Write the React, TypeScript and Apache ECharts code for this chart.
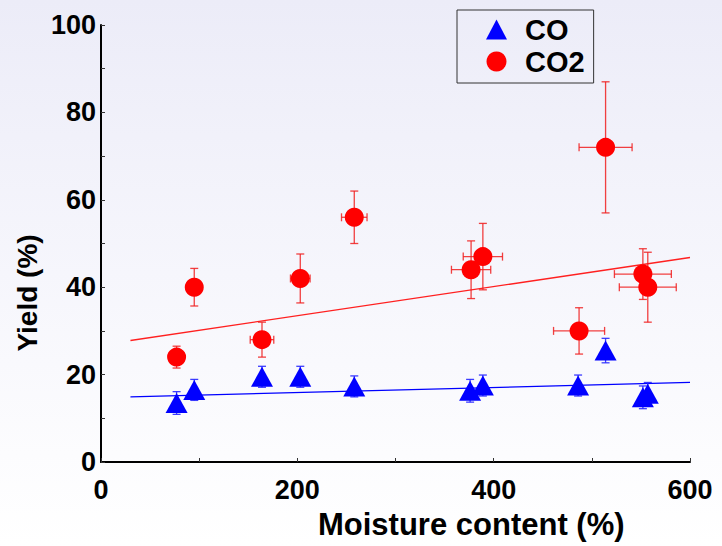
import React, { useEffect, useRef } from "react";
import * as echarts from "echarts";

// CO2 data (red circles)
const co2X = [77, 95, 164, 203, 258, 377, 389, 514, 487, 552, 557];
const co2Y = [24, 40, 28, 42, 56, 44, 47, 72, 30, 43, 40];
const co2XErr = [0, 0, 12, 10, 13, 20, 20, 27, 26, 29, 29];
const co2YErr = [2.5, 4.3, 4, 5.6, 6, 6.6, 7.6, 15, 5.3, 5.8, 8];

// CO data (blue triangles)
const coX = [77, 95, 164, 203, 258, 376, 389, 486, 514, 552, 557];
const coY = [13.5, 16.5, 19.5, 19.5, 17.3, 16.3, 17.5, 17.5, 25.5, 14.8, 15.6];
const coXErr = [0, 0, 0, 0, 0, 0, 0, 0, 0, 0, 0];
const coYErr = [2.6, 2.4, 2.4, 2.4, 2.4, 2.6, 2.4, 2.4, 2.8, 2.6, 2.6];

// Linear trend lines (endpoints)
const co2Trend = [
  [30, 27.8],
  [600, 46.8],
];
const coTrend = [
  [30, 14.9],
  [600, 18.2],
];

const xTicks = { min: 0, max: 600, interval: 200 };
const yTicks = { min: 0, max: 100, interval: 20 };

const FONT = "'Liberation Sans', Arial, Helvetica, sans-serif";

function errRender(color: string) {
  return (params: any, api: any) => {
    const x = api.value(0);
    const y = api.value(1);
    const xe = api.value(2);
    const ye = api.value(3);
    const cap = 4;
    const style = { stroke: color, lineWidth: 1.3 };
    const children: any[] = [];
    if (ye > 0) {
      const t = api.coord([x, y + ye]);
      const b = api.coord([x, y - ye]);
      children.push({ type: "line", shape: { x1: t[0], y1: t[1], x2: b[0], y2: b[1] }, style });
      children.push({ type: "line", shape: { x1: t[0] - cap, y1: t[1], x2: t[0] + cap, y2: t[1] }, style });
      children.push({ type: "line", shape: { x1: b[0] - cap, y1: b[1], x2: b[0] + cap, y2: b[1] }, style });
    }
    if (xe > 0) {
      const l = api.coord([x - xe, y]);
      const r = api.coord([x + xe, y]);
      children.push({ type: "line", shape: { x1: l[0], y1: l[1], x2: r[0], y2: r[1] }, style });
      children.push({ type: "line", shape: { x1: l[0], y1: l[1] - cap, x2: l[0], y2: l[1] + cap }, style });
      children.push({ type: "line", shape: { x1: r[0], y1: r[1] - cap, x2: r[0], y2: r[1] + cap }, style });
    }
    return { type: "group", children };
  };
}

export default function App() {
  const ref = useRef<HTMLDivElement>(null);
  useEffect(() => {
    if (!ref.current) return;
    const chart = echarts.init(ref.current, null, { renderer: "svg" });
    const co2Pts = co2X.map((x, i) => [x, co2Y[i]]);
    const coPts = coX.map((x, i) => [x, coY[i]]);
    const co2Err = co2X.map((x, i) => [x, co2Y[i], co2XErr[i], co2YErr[i]]);
    const coErr = coX.map((x, i) => [x, coY[i], coXErr[i], coYErr[i]]);
    const axisLabel = { color: "#000", fontWeight: "bold" as const, fontSize: 27, fontFamily: FONT };
    chart.setOption({
      animation: false,
      backgroundColor: "transparent",
      grid: { left: 101, right: 32, top: 25, bottom: 84, containLabel: false },
      legend: {
        data: [
          { name: "CO", icon: "triangle" },
          { name: "CO2", icon: "circle" },
        ],
        orient: "vertical",
        left: 457,
        top: 10,
        padding: [5, 9, 7, 29],
        itemGap: 3,
        itemWidth: 21,
        itemHeight: 20,
        borderColor: "#333",
        borderWidth: 1,
        textStyle: {
          color: "#000",
          fontWeight: "bold",
          fontSize: 29,
          fontFamily: FONT,
          padding: [0, 0, 0, 13],
        },
      },
      xAxis: {
        type: "value",
        min: xTicks.min,
        max: xTicks.max,
        interval: xTicks.interval,
        splitLine: { show: false },
        axisLine: { lineStyle: { color: "#000", width: 2 } },
        axisTick: { inside: true, length: 4, lineStyle: { color: "#333" } },
        minorTick: { show: true, splitNumber: 2, length: 4, lineStyle: { color: "#333" } },
        axisLabel: { ...axisLabel, margin: 14 },
      },
      yAxis: {
        type: "value",
        min: yTicks.min,
        max: yTicks.max,
        interval: yTicks.interval,
        splitLine: { show: false },
        axisLine: { show: true, lineStyle: { color: "#000", width: 2 } },
        axisTick: { show: true, inside: true, length: 4, lineStyle: { color: "#333" } },
        minorTick: { show: true, splitNumber: 2, length: 4, lineStyle: { color: "#333" } },
        axisLabel: { ...axisLabel, margin: 5 },
      },
      graphic: [
        {
          type: "text",
          left: 318,
          top: 509,
          style: { text: "Moisture content (%)", fill: "#000", font: `bold 31px ${FONT}` },
        },
        {
          type: "text",
          x: 27,
          y: 293,
          rotation: Math.PI / 2,
          style: {
            text: "Yield (%)",
            fill: "#000",
            font: `bold 28px ${FONT}`,
            align: "center",
            verticalAlign: "middle",
          },
        },
      ],
      series: [
        {
          name: "CO2 fit",
          type: "line",
          data: co2Trend,
          showSymbol: false,
          lineStyle: { color: "#ff2020", width: 1.3 },
          z: 1,
        },
        {
          name: "CO fit",
          type: "line",
          data: coTrend,
          showSymbol: false,
          lineStyle: { color: "#0000ff", width: 1.3 },
          z: 1,
        },
        {
          name: "CO2 err",
          type: "custom",
          renderItem: errRender("rgba(240,30,30,0.85)"),
          data: co2Err,
          encode: { x: 0, y: 1 },
          z: 2,
        },
        {
          name: "CO err",
          type: "custom",
          renderItem: errRender("rgba(40,40,255,0.9)"),
          data: coErr,
          encode: { x: 0, y: 1 },
          z: 2,
        },
        {
          name: "CO2",
          type: "scatter",
          data: co2Pts,
          symbol: "circle",
          symbolSize: 19,
          itemStyle: { color: "#ff0000", opacity: 1 },
          z: 3,
        },
        {
          name: "CO",
          type: "scatter",
          data: coPts,
          symbol: "triangle",
          symbolSize: [22, 20],
          itemStyle: { color: "#0000ff", opacity: 1 },
          z: 3,
        },
      ],
    });
    return () => chart.dispose();
  }, []);
  return (
    <div
      ref={ref}
      style={{
        position: "absolute",
        left: 0,
        top: 0,
        width: 722,
        height: 546,
        background: "linear-gradient(to bottom, #ececf8 0%, #f6f6fc 50%, #ffffff 100%)",
      }}
    />
  );
}
